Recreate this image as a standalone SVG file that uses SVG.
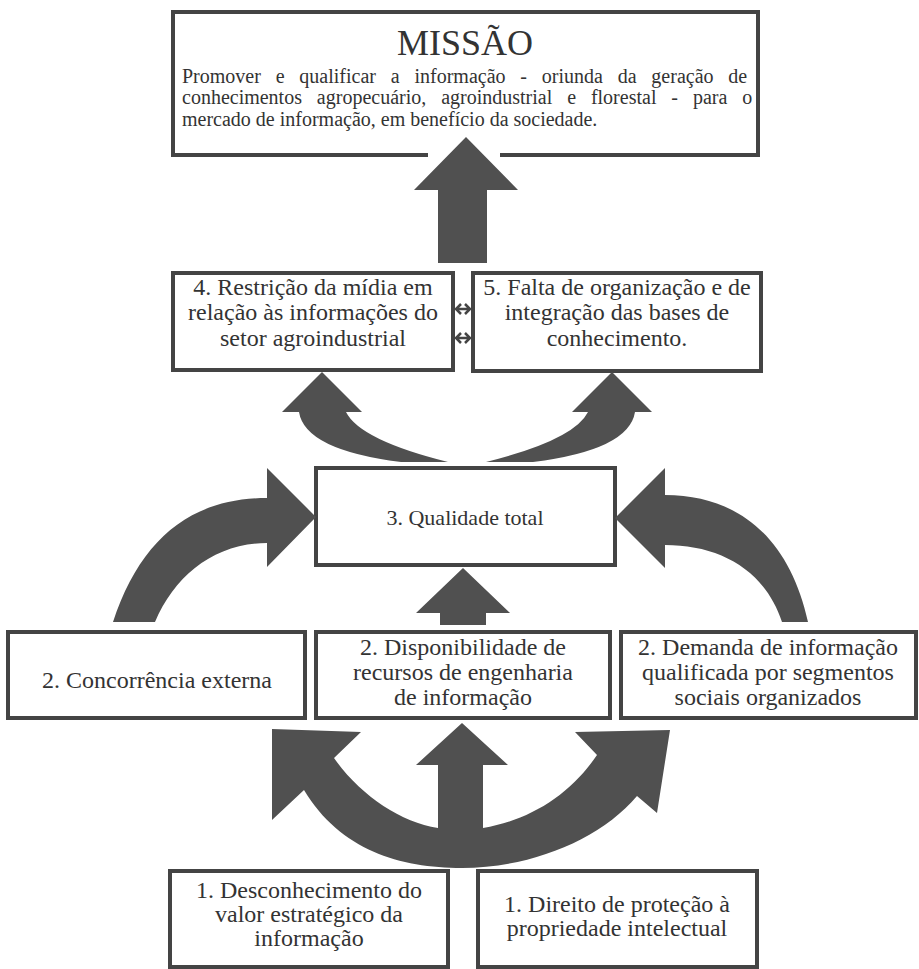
<svg xmlns="http://www.w3.org/2000/svg" width="919" height="969" viewBox="0 0 919 969">
<style>
.box{fill:#fff;stroke:#444;stroke-width:4}
.t{font-family:"Liberation Serif","Times New Roman",serif;fill:#333;font-size:24px;text-anchor:middle}
.b{font-family:"Liberation Serif","Times New Roman",serif;fill:#333;font-size:20px}
.arr{fill:#505050}
.dbl{fill:none;stroke:#444;stroke-width:2.5}
</style>
<rect width="919" height="969" fill="#fff"/>
<g id="missao">
<rect class="box" x="173" y="12" width="585" height="143"/>
<text class="t" x="465" y="55" style="font-size:36px">MISSÃO</text>
<text class="b" x="182" y="83" word-spacing="9.8">Promover e qualificar a informação - oriunda da geração de</text>
<text class="b" x="182" y="104" word-spacing="9.9">conhecimentos agropecuário, agroindustrial e florestal - para o</text>
<text class="b" x="182" y="126">mercado de informação, em benefício da sociedade.</text>
</g>
<g id="n4">
<rect class="box" x="173" y="273" width="280" height="97"/>
<text class="t" x="313" y="295">4.  Restrição da mídia em</text>
<text class="t" x="313" y="320">relação às informações do</text>
<text class="t" x="313" y="346">setor agroindustrial</text>
</g>
<g id="n5">
<rect class="box" x="473" y="273" width="288" height="98"/>
<text class="t" x="617" y="295">5.  Falta de organização e de</text>
<text class="t" x="617" y="320">integração das bases de</text>
<text class="t" x="617" y="346">conhecimento.</text>
</g>
<g id="n3">
<rect class="box" x="316" y="468" width="299" height="97"/>
<text class="t" x="465" y="525" style="font-size:22px">3.  Qualidade total</text>
</g>
<g id="n2a">
<rect class="box" x="8" y="632" width="297" height="86"/>
<text class="t" x="157" y="688">2.  Concorrência externa</text>
</g>
<g id="n2b">
<rect class="box" x="316" y="632" width="294" height="86"/>
<text class="t" x="463" y="655">2.  Disponibilidade de</text>
<text class="t" x="463" y="680">recursos de engenharia</text>
<text class="t" x="463" y="705">de informação</text>
</g>
<g id="n2c">
<rect class="box" x="621" y="632" width="295" height="86"/>
<text class="t" x="768" y="655">2.  Demanda de informação</text>
<text class="t" x="768" y="680">qualificada por segmentos</text>
<text class="t" x="768" y="705">sociais organizados</text>
</g>
<g id="n1a">
<rect class="box" x="170" y="871" width="278" height="96"/>
<text class="t" x="309" y="898">1.  Desconhecimento do</text>
<text class="t" x="309" y="922">valor estratégico da</text>
<text class="t" x="309" y="946">informação</text>
</g>
<g id="n1b">
<rect class="box" x="478" y="871" width="279" height="96"/>
<text class="t" x="617" y="912">1.  Direito de proteção à</text>
<text class="t" x="617" y="936">propriedade intelectual</text>
</g>
<g id="connectors">
<rect x="428" y="149" width="72" height="9" fill="#fff"/>
<path class="arr" d="M438,263 L438,190 L414,190 L466,137 L518,190 L487,190 L487,263 Z"/>
<path class="dbl" d="M456,309 L470,309 M461,304 L456,309 L461,314 M465,304 L470,309 L465,314"/>
<path class="dbl" d="M456,338 L470,338 M461,333 L456,338 L461,343 M465,333 L470,338 L465,343"/>
<path class="arr" d="M401,462 Q305,450 299,412 L282,412 L322,372 L362,412 L346,412 Q360,440 448,462 Z"/>
<path class="arr" d="M533,462 Q629,450 635,412 L652,412 L612,372 L572,412 L588,412 Q574,440 486,462 Z"/>
<path class="arr" d="M113,622 C140,540 190,498 267,498 L267,468 L316,517 L267,567 L267,543 C215,543 175,575 155,622 Z"/>
<path class="arr" d="M808,622 C790,540 740,495 665,495 L665,468 L615,518 L665,568 L665,545 C720,545 765,570 782,622 Z"/>
<path class="arr" d="M440,625 L440,613 L416,613 L463,568 L510,613 L486,613 L486,625 Z"/>
<path class="arr" d="M272,729 L361,732 L334,758 C360,795 400,822 438,828 L438,765 L416,765 L462,723 L508,765 L483,765 L483,828 C530,820 570,795 597,755 L575,732 L670,730 L657,813 L637,796 C600,840 530,868 462,868 C400,868 340,850 304,790 L272,820 Z"/>
</g>
</svg>
